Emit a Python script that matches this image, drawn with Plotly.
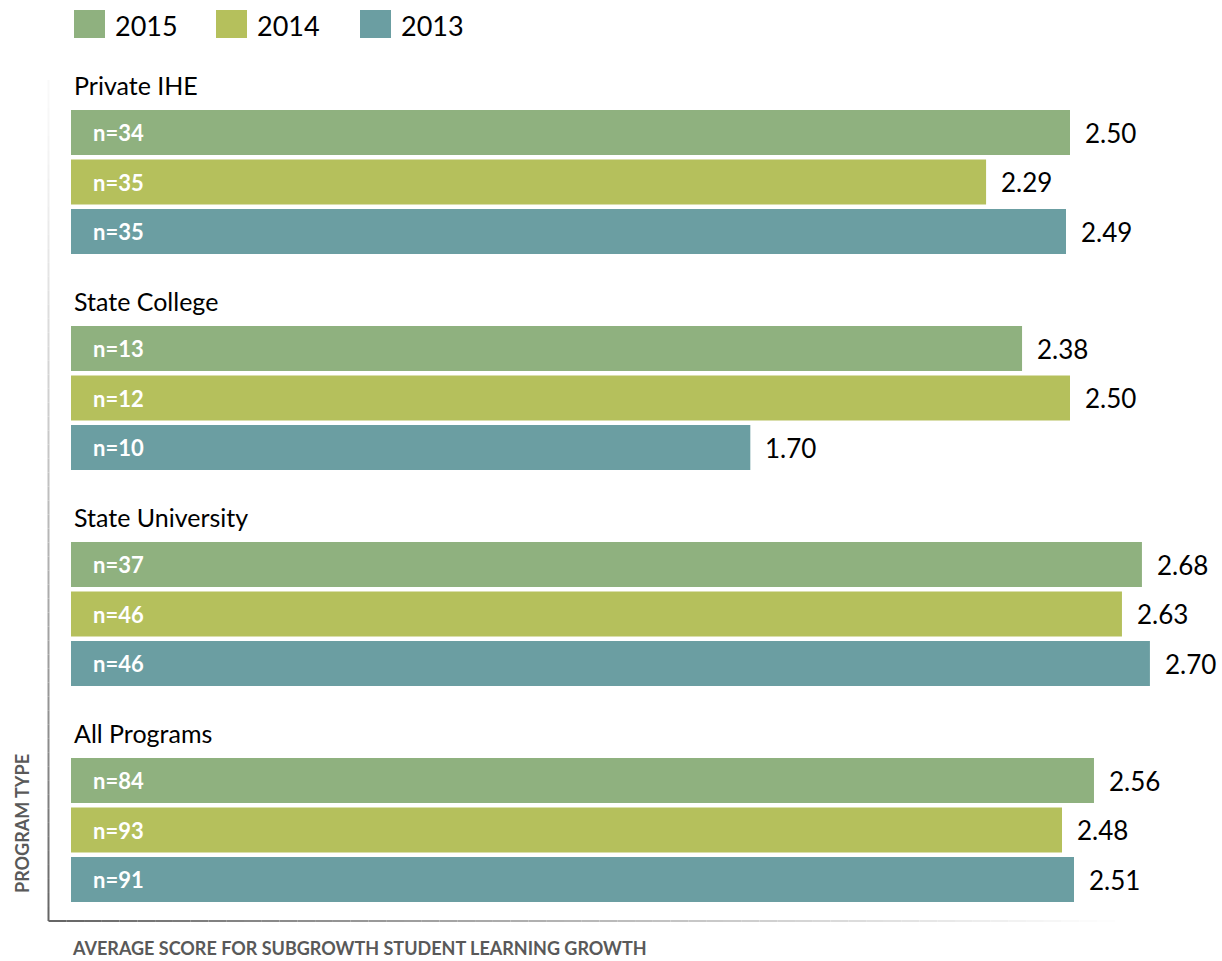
import plotly.graph_objects as go

# Data
programs = ["Private IHE", "State College", "State University", "All Programs"]
years = ["2015", "2014", "2013"]
scores = {
    "2015": [2.50, 2.38, 2.68, 2.56],
    "2014": [2.29, 2.50, 2.63, 2.48],
    "2013": [2.49, 1.70, 2.70, 2.51],
}
counts = {
    "2015": [34, 13, 37, 84],
    "2014": [35, 12, 46, 93],
    "2013": [35, 10, 46, 91],
}
colors = {"2015": "#8FB17F", "2014": "#B5C05C", "2013": "#6B9EA2"}

W, H = 1222, 961
FONT = "Lato"

# Horizontal scale: bars start at pixel 71, ~399.6 px per score unit
X0_PX = 71
PX_PER_UNIT = 399.6
x_range = [-X0_PX / PX_PER_UNIT, (W - X0_PX) / PX_PER_UNIT]

# Vertical layout (y axis runs in pixel-like units, top = 0)
GROUP_TOP = 110
GROUP_PITCH = 216
BAR_PITCH = 49.5
BAR_THICK = 45


def bar_center(g, s):
    return GROUP_TOP + GROUP_PITCH * g + BAR_PITCH * s + BAR_THICK / 2


def px(x):
    return x / W


def py(y):
    return 1 - y / H


fig = go.Figure()
annotations = []

for s, yr in enumerate(years):
    ys = [bar_center(g, s) for g in range(len(programs))]
    fig.add_trace(go.Bar(
        x=scores[yr], y=ys, orientation="h", width=BAR_THICK,
        marker=dict(color=colors[yr], line=dict(width=0)),
        name=yr, showlegend=False, hoverinfo="skip",
    ))
    for g in range(len(programs)):
        annotations.append(dict(
            x=0, y=ys[g], xref="x", yref="y", xanchor="left", yanchor="middle",
            xshift=20, text=f"<b>n={counts[yr][g]}</b>", showarrow=False,
            font=dict(family=FONT, size=22, color="white"),
        ))
        annotations.append(dict(
            x=scores[yr][g], y=ys[g], xref="x", yref="y", xanchor="left",
            yanchor="middle", xshift=13, text=f"{scores[yr][g]:.2f}",
            showarrow=False, font=dict(family=FONT, size=26, color="black"),
        ))

# Group titles above each block of bars
for g, name in enumerate(programs):
    annotations.append(dict(
        x=0, y=GROUP_TOP + GROUP_PITCH * g - 25, xref="x", yref="y",
        xanchor="left", yanchor="middle", xshift=1, text=name, showarrow=False,
        font=dict(family=FONT, size=25, color="black"),
    ))

# Legend: swatches with year labels
shapes = []
leg_x = [74, 216, 360]
for i, yr in enumerate(years):
    x0 = leg_x[i]
    shapes.append(dict(type="rect", xref="paper", yref="paper",
                       x0=px(x0), x1=px(x0 + 31),
                       y0=py(38), y1=py(10),
                       fillcolor=colors[yr], line=dict(width=0)))
    annotations.append(dict(
        x=px(x0 + 39), y=py(26), xref="paper", yref="paper",
        xanchor="left", yanchor="middle", text=yr, showarrow=False,
        font=dict(family=FONT, size=27, color="black"),
    ))

# Axis frame lines with a fade
N = 60
ax_x = 48.5
top_y, bot_y = 80, 921
for i in range(N):
    t0 = i / N
    t1 = (i + 1) / N
    # left line: light at top, darker at bottom
    c = int(250 - 150 * ((t0 + t1) / 2) ** 1.3)
    shapes.append(dict(type="line", xref="paper", yref="paper",
                       x0=px(ax_x), x1=px(ax_x),
                       y0=py(top_y + (bot_y - top_y) * t0),
                       y1=py(top_y + (bot_y - top_y) * t1),
                       line=dict(color=f"rgb({c},{c},{c})", width=2)))
right_x = 1115
for i in range(N):
    t0 = i / N
    t1 = (i + 1) / N
    # bottom line: darker at left, fading to white at right
    c = min(int(100 + 155 * ((t0 + t1) / 2) ** 0.9), 255)
    shapes.append(dict(type="line", xref="paper", yref="paper",
                       x0=px(ax_x + (right_x - ax_x) * t0),
                       x1=px(ax_x + (right_x - ax_x) * t1),
                       y0=py(bot_y), y1=py(bot_y),
                       line=dict(color=f"rgb({c},{c},{c})", width=2)))

# Axis titles
annotations.append(dict(
    x=px(70), y=py(948), xref="paper", yref="paper", xanchor="left",
    yanchor="middle", text="<b>AVERAGE SCORE FOR SUBGROWTH STUDENT LEARNING GROWTH</b>",
    showarrow=False, font=dict(family=FONT, size=18, color="#595959"),
))
annotations.append(dict(
    x=px(22), y=py(824), xref="paper", yref="paper", xanchor="center",
    yanchor="middle", text="<b>PROGRAM TYPE</b>", textangle=-90,
    showarrow=False, font=dict(family=FONT, size=18, color="#595959"),
))

fig.update_layout(
    width=W, height=H,
    margin=dict(l=0, r=0, t=0, b=0),
    plot_bgcolor="white", paper_bgcolor="white",
    barmode="overlay",
    xaxis=dict(range=x_range, visible=False, fixedrange=True),
    yaxis=dict(range=[H, 0], visible=False, fixedrange=True),
    annotations=annotations,
    shapes=shapes,
    showlegend=False,
)

fig.write_html("out.html")
